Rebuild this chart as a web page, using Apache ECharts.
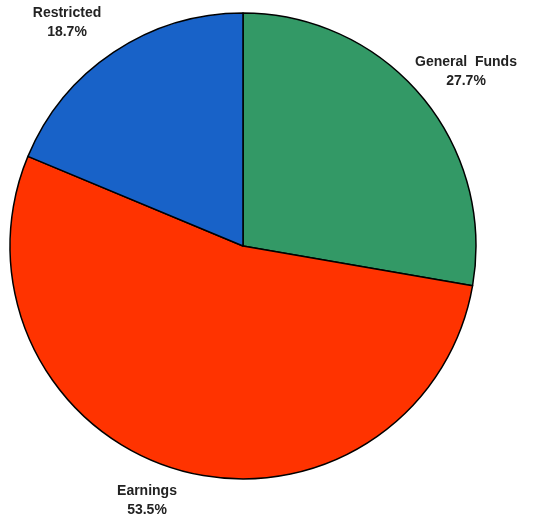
<!DOCTYPE html>
<html>
<head>
<meta charset="utf-8">
<script src="https://cdn.jsdelivr.net/npm/echarts@6/dist/echarts.min.js"></script>
<style>
  html, body { margin: 0; padding: 0; background: #ffffff; }
  #chart { width: 545px; height: 520px; }
</style>
</head>
<body>
<div id="chart"></div>
<script>
// Funding sources, clockwise from 12 o'clock
const categories = ['General  Funds', 'Earnings', 'Restricted'];
const shares = [27.7, 53.5, 18.7];
const sliceColors = ['#339966', '#ff3300', '#1862c8'];

// Label anchor points (centre of each two-line label)
const labelSpots = [[466, 72], [147, 501], [67, 23]];

const chart = echarts.init(document.getElementById('chart'), null, { renderer: 'canvas' });

chart.setOption({
  backgroundColor: '#ffffff',
  animation: false,
  series: [{
    type: 'pie',
    center: [243, 246],
    radius: [0, 233],
    startAngle: 90,
    clockwise: true,
    avoidLabelOverlap: false,
    data: categories.map((name, i) => ({
      name,
      value: shares[i],
      itemStyle: { color: sliceColors[i] }
    })),
    itemStyle: { borderColor: '#000000', borderWidth: 1.5 },
    label: {
      show: true,
      formatter: p => p.name + '\n' + p.value.toFixed(1) + '%',
      fontFamily: 'Liberation Sans, Arial, sans-serif',
      fontWeight: 'bold',
      fontSize: 14,
      lineHeight: 19,
      color: '#222222',
      align: 'center',
      verticalAlign: 'middle'
    },
    labelLine: { show: false },
    labelLayout: params => ({
      x: labelSpots[params.dataIndex][0],
      y: labelSpots[params.dataIndex][1],
      align: 'center',
      verticalAlign: 'middle'
    }),
    emphasis: { disabled: true }
  }]
});
</script>
</body>
</html>
